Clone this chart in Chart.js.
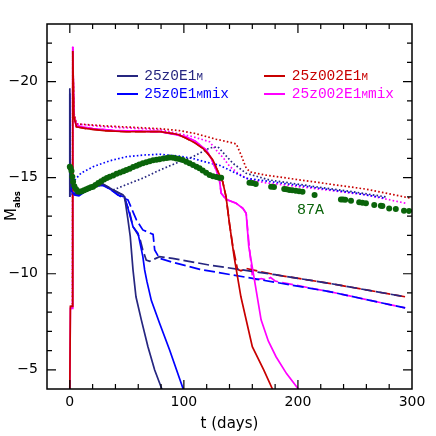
<!DOCTYPE html>
<html>
<head>
<meta charset="utf-8">
<script src="https://cdn.jsdelivr.net/npm/chart.js@4.4.1/dist/chart.umd.min.js"></script>
<style>
  body { margin: 0; background: #fff; }
  #wrap { position: relative; width: 436px; height: 436px; }
  .leg { position: absolute; font-family: "Liberation Mono", monospace; font-size: 14.5px; line-height: 16px; white-space: nowrap; }
  .sw { position: absolute; height: 1.8px; width: 21px; }
  .sc { font-size: 0.75em; }
  #ytitle { position: absolute; left: -9px; top: 196px; width: 40px; height: 20px; text-align: center;
            font-family: "DejaVu Sans", sans-serif; font-size: 15px; line-height: 20px; transform: rotate(-90deg); }
  #ytitle sub { font-size: 8.5px; font-weight: bold; }
  #sn { position: absolute; left: 297px; top: 202px; font-family: "Liberation Mono", monospace; font-size: 15px; color: #0a640a; }
</style>
</head>
<body>
<div id="wrap">
  <canvas id="c" width="436" height="436"></canvas>
  <div id="ytitle">M<sub>abs</sub></div>
  <div id="sn">87A</div>
</div>
<script>
// tick labels
const xTicks = [0, 100, 200, 300];
const yTicks = [-20, -15, -10, -5];

// legend
const modelNames = ['25z0E1', '25z0E1', '25z002E1', '25z002E1'];
const modelTails = ['', 'mix', '', 'mix'];
const modelColors = ['#262680', '#0000ff', '#c80000', '#ff00ff'];

// 25z0E1M  (navy)
const z0SolT = [0, 0, 0.4, 1.5, 4, 8, 14, 20, 26, 29, 34, 38, 43, 46.7, 48, 51, 53, 55.4, 58, 62.7, 68.5, 74.4, 81];
const z0SolM = [-14.0, -19.65, -15.3, -14.6, -14.4, -14.3, -14.4, -14.5, -14.6, -14.67, -14.5, -14.36, -14.2, -14.1, -14.0, -12.8, -11.93, -10.2, -8.8, -7.6, -6.2, -4.99, -3.95];
const z0DashT = [1.5, 4, 8, 14, 20, 26, 29, 34, 40, 46.7, 52, 55.4, 61, 64, 67, 70, 78.7, 90, 122.5, 180, 227.5, 294];
const z0DashM = [-14.2, -14.15, -14.1, -14.3, -14.45, -14.6, -14.65, -14.5, -14.3, -14.1, -13.3, -12.45, -11.93, -11.24, -10.71, -10.65, -10.89, -10.8, -10.45, -9.95, -9.5, -8.8];
const z0DotT = [38, 50, 65, 79, 95, 108, 122.5, 129.8, 136, 143, 154.6, 175, 213, 250, 277];
const z0DotM = [-14.36, -14.65, -15.0, -15.4, -15.8, -16.09, -16.55, -16.61, -16.2, -15.75, -15.23, -14.88, -14.55, -14.25, -14.0];

// 25z0E1Mmix  (blue)
const z0mSolT = [0, 0, 0.4, 1.5, 4, 8, 14, 20, 26, 29, 34, 38, 42, 48, 51, 55.4, 59.8, 64, 65.6, 67.6, 71.5, 78.7, 87.5, 99.7];
const z0mSolM = [-14.0, -19.4, -15.2, -14.3, -14.1, -14.05, -14.3, -14.5, -14.6, -14.6, -14.45, -14.3, -14.1, -14.0, -13.4, -12.45, -12.1, -10.9, -10.2, -9.6, -8.6, -7.42, -6.03, -3.95];
const z0mDashT = [1.5, 4, 8, 14, 20.4, 26, 30, 35, 40, 45, 51, 58.4, 64, 73, 74.4, 78.7, 90, 114, 227.5, 294];
const z0mDashM = [-14.1, -14.2, -14.1, -14.3, -14.45, -14.6, -14.6, -14.4, -14.2, -14.0, -13.84, -12.8, -12.28, -12.05, -11.24, -10.8, -10.6, -10.23, -9.07, -8.22];
const z0mDotT = [1.5, 4.4, 10, 20.4, 35, 49.6, 65, 78.7, 96, 108, 120, 131, 140, 154.6, 175, 213, 250, 277];
const z0mDotM = [-14.3, -14.88, -15.25, -15.57, -15.88, -16.09, -16.18, -16.22, -16.12, -16.0, -15.8, -15.65, -15.4, -14.97, -14.8, -14.5, -14.2, -13.93];

// 25z002E1M  (red)
const z2SolT = [0, 0.5, 2.2, 2.6, 3.5, 5.8, 15, 30, 49.6, 79, 95, 102, 110, 116.6, 121, 125.4, 130, 134, 137, 140, 144, 150, 160, 170, 178];
const z2SolM = [-4, -8.3, -8.3, -21.6, -18.2, -17.65, -17.55, -17.45, -17.39, -17.4, -17.25, -17.05, -16.8, -16.53, -16.25, -15.92, -15.3, -14.8, -14.0, -12.6, -10.9, -8.8, -6.2, -5.0, -3.95];
const z2DashT = [2.6, 3.5, 5.8, 15, 30, 49.6, 79, 95, 102, 110, 116.6, 121, 125.4, 130, 134, 137, 140, 143, 147, 150, 154.6, 160, 180, 227.5, 294];
const z2DashM = [-21.6, -18.2, -17.65, -17.55, -17.45, -17.39, -17.4, -17.25, -17.05, -16.8, -16.53, -16.25, -15.92, -15.3, -14.8, -14.0, -12.6, -11.4, -10.23, -10.15, -10.28, -10.2, -9.95, -9.5, -8.8];
const z2DotT = [0.5, 2.2, 2.6, 3.5, 5.8, 30, 79, 96, 110, 128.3, 140, 146, 150, 154.6, 158, 170, 213, 260, 299];
const z2DotM = [-8.3, -8.3, -21.6, -18.4, -17.8, -17.7, -17.55, -17.45, -17.3, -17.0, -16.85, -16.75, -16.2, -15.5, -15.3, -15.15, -14.79, -14.4, -13.93];

// 25z002E1Mmix  (magenta)
const z2mSolT = [0, 0.5, 2.2, 2.6, 3.5, 5.8, 20, 40, 79, 102, 110, 119.6, 124, 128.3, 131.2, 132.7, 137, 145.8, 151.7, 154.6, 156.9, 161.9, 167.7, 174, 180.8, 190, 201];
const z2mSolM = [-4, -8.2, -8.2, -21.82, -18.2, -17.7, -17.55, -17.45, -17.4, -17.13, -16.9, -16.44, -16.0, -15.4, -14.88, -14.19, -13.87, -13.67, -13.41, -13.15, -11.41, -9.67, -7.6, -6.5, -5.68, -4.8, -3.95];
const z2mDashT = [2.6, 3.5, 5.8, 20, 40, 79, 102, 110, 119.6, 124, 128.3, 131.2, 132.7, 137, 145.8, 151.7, 154.6, 157, 160, 163, 168, 172, 176, 180, 185, 227.5, 294];
const z2mDashM = [-21.82, -18.2, -17.7, -17.55, -17.45, -17.4, -17.13, -16.9, -16.44, -16.0, -15.4, -14.88, -14.19, -13.87, -13.67, -13.41, -13.15, -11.6, -9.9, -9.7, -9.75, -9.68, -9.8, -9.62, -9.55, -9.07, -8.22];
const z2mDotT = [0.5, 2.2, 2.6, 3.5, 5.8, 30, 79, 108, 122.5, 128.3, 135, 140, 147, 154.6, 170, 213, 260, 294.5];
const z2mDotM = [-8.2, -8.2, -21.82, -18.4, -17.8, -17.65, -17.5, -17.13, -16.87, -16.44, -16.0, -15.6, -15.25, -14.97, -14.75, -14.45, -14.1, -13.67];

// SN 1987A observations
const snT = [0, 0.7, 1.5, 2.2, 2.9, 4, 5.5, 7, 8.7, 10.5, 12.5, 14.5, 16.5, 18.5, 20.4, 22.5, 25, 27.5, 30, 32.5, 35, 38, 41, 44, 47, 49.6,
  52.5, 55.5, 58.5, 61, 64, 67, 70, 73, 76, 78.7, 82, 85, 87.5, 90.5, 93.3, 96, 99, 102, 105, 108, 111, 113.7, 116.5, 119.5,
  122.5, 125.5, 128.5, 131, 132.7, 157.5, 160, 163, 176.5, 179, 188, 190, 192.5, 195, 198, 201, 204, 214.6, 237.7, 239.5,
  241.5, 246.5, 253.7, 256.5, 259.6, 266.9, 272.7, 274, 280, 285.8, 293, 297.5];
const snM = [-15.57, -15.5, -15.35, -15.05, -14.79, -14.55, -14.4, -14.3, -14.27, -14.3, -14.35, -14.4, -14.45, -14.5, -14.53, -14.62, -14.72, -14.82, -14.9, -14.98, -15.05, -15.12, -15.2, -15.27, -15.34, -15.4,
  -15.47, -15.55, -15.62, -15.68, -15.75, -15.8, -15.86, -15.91, -15.94, -15.96, -16.0, -16.03, -16.05, -16.04, -16.0, -15.97, -15.92, -15.83, -15.75, -15.66, -15.57, -15.49, -15.38, -15.26,
  -15.14, -15.07, -15.03, -15.0, -15.0, -14.74, -14.72, -14.67, -14.53, -14.52, -14.41, -14.4, -14.36, -14.34, -14.32, -14.3, -14.27, -14.1, -13.87, -13.86,
  -13.85, -13.8, -13.72, -13.7, -13.67, -13.58, -13.54, -13.53, -13.4, -13.37, -13.28, -13.27];

const pts = (t, m) => t.map((v, i) => ({ x: v, y: m[i] }));
const DASH = [11, 4];
const DOT = [1.6, 2.2];

function curve(t, m, color, dash) {
  return {
    data: pts(t, m),
    borderColor: color,
    borderWidth: 1.7,
    borderDash: dash || [],
    pointRadius: 0,
    tension: 0,
    fill: false
  };
}

const datasets = [
  { data: pts(snT, snM), showLine: false, pointRadius: 3, pointBackgroundColor: '#0a640a', pointBorderWidth: 0 },
  curve(z0SolT, z0SolM, modelColors[0]),
  curve(z0mSolT, z0mSolM, modelColors[1]),
  curve(z2SolT, z2SolM, modelColors[2]),
  curve(z2mSolT, z2mSolM, modelColors[3]),
  curve(z0DashT, z0DashM, modelColors[0], DASH),
  curve(z0mDashT, z0mDashM, modelColors[1], DASH),
  curve(z2DashT, z2DashM, modelColors[2], DASH),
  curve(z2mDashT, z2mDashM, modelColors[3], DASH),
  curve(z0DotT, z0DotM, modelColors[0], DOT),
  curve(z0mDotT, z0mDotM, modelColors[1], DOT),
  curve(z2DotT, z2DotM, modelColors[2], DOT),
  curve(z2mDotT, z2mDotM, modelColors[3], DOT)
];

const minus = v => v < 0 ? '\u2212' + Math.abs(v) : String(v);

// Frame and inward ticks on all four sides
const frameTicks = {
  id: 'frameTicks',
  afterDraw(chart) {
    const { ctx, chartArea: a, scales: { x, y } } = chart;
    ctx.save();
    ctx.strokeStyle = '#000';
    ctx.lineWidth = 1.2;
    ctx.beginPath();
    for (let v = 0; v < 300; v += 20) {
      const px = x.getPixelForValue(v);
      const len = v % 100 === 0 ? 9 : 5;
      ctx.moveTo(px, a.bottom); ctx.lineTo(px, a.bottom - len);
      ctx.moveTo(px, a.top); ctx.lineTo(px, a.top + len);
    }
    for (let v = -22; v <= -5; v += 1) {
      const py = y.getPixelForValue(v);
      const len = v % 5 === 0 ? 9 : 5;
      ctx.moveTo(a.left, py); ctx.lineTo(a.left + len, py);
      ctx.moveTo(a.right, py); ctx.lineTo(a.right - len, py);
    }
    ctx.stroke();
    ctx.lineWidth = 1.5;
    ctx.strokeRect(a.left, a.top, a.right - a.left, a.bottom - a.top);
    ctx.restore();
  }
};

const tickFont = { family: 'DejaVu Sans', size: 14 };

new Chart(document.getElementById('c'), {
  type: 'line',
  data: { datasets: datasets },
  options: {
    responsive: false,
    animation: false,
    layout: { padding: { top: 24, right: 24, left: 0, bottom: 0 } },
    plugins: { legend: { display: false }, tooltip: { enabled: false } },
    scales: {
      x: {
        type: 'linear', min: -20, max: 300,
        afterFit: s => { s.height = 47; },
        afterBuildTicks: s => { s.ticks = xTicks.map(v => ({ value: v })); },
        grid: { display: false, drawTicks: false },
        border: { display: false },
        ticks: { padding: 5, color: '#000', font: tickFont, maxRotation: 0 },
        title: { display: true, text: 't (days)', color: '#000', font: { family: 'DejaVu Sans', size: 15 }, padding: { top: 0, bottom: 3 } }
      },
      y: {
        type: 'linear', min: -23, max: -4, reverse: true,
        afterFit: s => { s.width = 47; },
        afterBuildTicks: s => { s.ticks = yTicks.map(v => ({ value: v })); },
        grid: { display: false, drawTicks: false },
        border: { display: false },
        ticks: { padding: 9, color: '#000', font: tickFont, callback: v => minus(v) }
      }
    }
  },
  plugins: [frameTicks]
});

// legend overlay, two columns by two rows
const legX = [116.7, 264.3];
const legY = [75.7, 94.3];
const wrap = document.getElementById('wrap');
modelNames.forEach((name, i) => {
  const col = i < 2 ? 0 : 1, row = i % 2;
  const sw = document.createElement('div');
  sw.className = 'sw';
  sw.style.cssText = `left:${legX[col]}px;top:${legY[row] - 0.9}px;background:${modelColors[i]}`;
  wrap.appendChild(sw);
  const tx = document.createElement('div');
  tx.className = 'leg';
  tx.style.cssText = `left:${legX[col] + 27.5}px;top:${legY[row] - 8}px;color:${modelColors[i]}`;
  tx.innerHTML = name + '<span class="sc">M</span>' + modelTails[i];
  wrap.appendChild(tx);
});
</script>
</body>
</html>
